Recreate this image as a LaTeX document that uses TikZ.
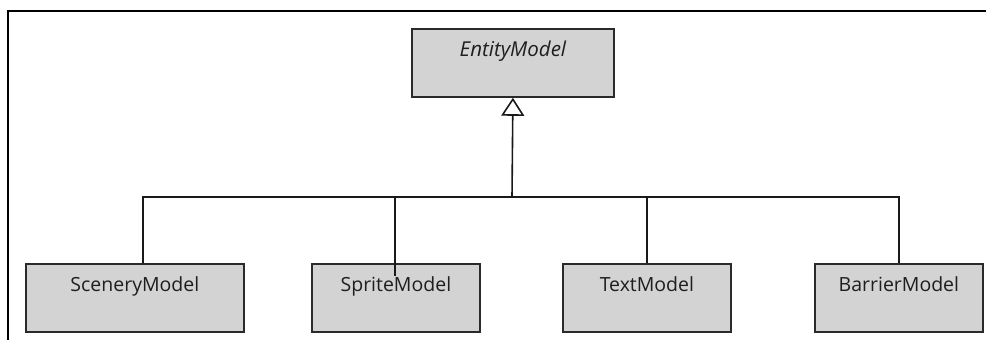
\documentclass[tikz,border=0pt]{standalone}
\usepackage{fontspec}
\setmainfont{Open Sans}
\usetikzlibrary{arrows.meta}
\definecolor{boxfill}{HTML}{D3D3D3}
\definecolor{boxline}{HTML}{2A2A2A}
\definecolor{txt}{HTML}{1E1E1E}
\tikzset{
  classbox/.style={draw=boxline, fill=boxfill, line width=1.8pt, rectangle,
    inner xsep=0pt, inner ysep=0pt, text height=28pt, text depth=40pt,
    font=\fontsize{19.5}{22}\selectfont, text=txt, anchor=north west},
  abstractbox/.style={classbox, font=\fontsize{20.5}{22}\selectfont\itshape},
  link/.style={draw=black!90, line width=1.6pt},
  inherit/.style={link, -{Triangle[open, length=18pt, width=23pt, line width=1.6pt]}},
  frameline/.style={draw=black, line width=2.4pt}
}
\begin{document}
\begin{tikzpicture}[x=1pt, y=-1pt]
  \useasboundingbox (0,0) rectangle (986,340);
  % outer frame (only its top and left sides fall inside the page)
  \draw[frameline] (8,340) -- (8,11) -- (986,11);

  % classes
  \node[abstractbox, minimum width=202pt] (entity) at (411,28) {EntityModel};
  \node[classbox, minimum width=218pt] (scenery) at (25,263) {SceneryModel};
  \node[classbox, minimum width=168pt] (sprite) at (311,263) {SpriteModel};
  \node[classbox, minimum width=168pt] (text) at (562,263) {TextModel};
  \node[classbox, minimum width=168pt] (barrier) at (814,263) {BarrierModel};

  % generalization tree
  \coordinate (bus) at (512,197);
  \coordinate (stap) at (143,263);
  \coordinate (sprtap) at (394.7,276);
  \draw[link] (stap) |- (bus) -| (barrier.north);
  \draw[link] (bus -| sprtap) -- (sprtap);
  \draw[link] (bus -| text.north) -- (text.north);
  \draw[inherit] (bus) -- (entity.south);
\end{tikzpicture}
\end{document}
